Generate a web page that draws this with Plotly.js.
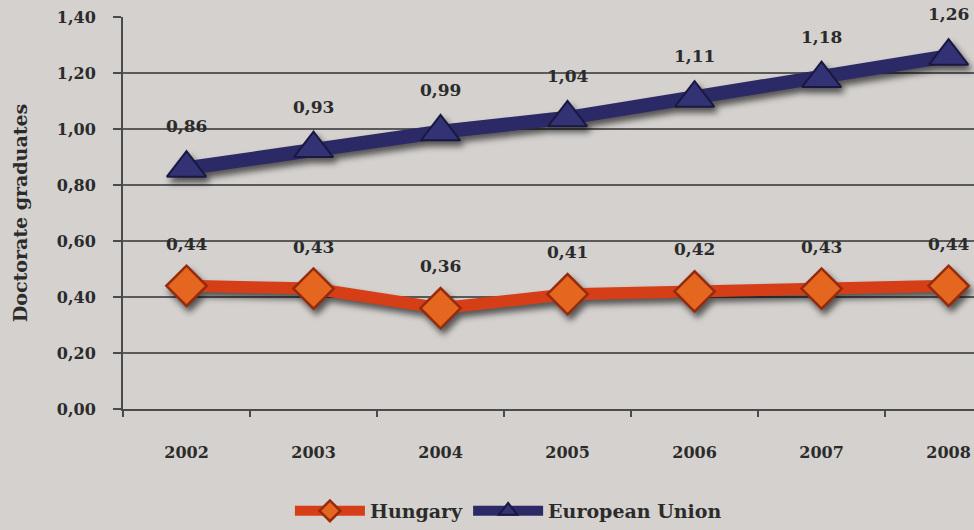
<!DOCTYPE html>
<html>
<head>
<meta charset="utf-8">
<script src="https://cdn.plot.ly/plotly-3.0.1.min.js"></script>
<style>
  html, body { margin: 0; padding: 0; background: #d4d1ce; overflow: hidden; }
  #chart { width: 974px; height: 530px; }
  /* soft drop shadow under the series lines and markers */
  #chart .scatterlayer .trace { filter: drop-shadow(3px 5px 3px rgba(0,0,0,0.6)); }
</style>
</head>
<body>
<div id="chart"></div>
<script>
// Doctorate graduates per 1000 population, Hungary vs. EU average
const years = ['2002', '2003', '2004', '2005', '2006', '2007', '2008'];
const hungary = [0.44, 0.43, 0.36, 0.41, 0.42, 0.43, 0.44];
const europeanUnion = [0.86, 0.93, 0.99, 1.04, 1.11, 1.18, 1.26];
const yTicks = [0, 0.2, 0.4, 0.6, 0.8, 1.0, 1.2, 1.4];

const fmt = v => v.toFixed(2).replace('.', ',');
const serif = '"DejaVu Serif", "Liberation Serif", serif';
const ink = '#2b2b2b';

const traces = [
  {
    x: years, y: hungary, name: 'Hungary', type: 'scatter', mode: 'lines+markers',
    line: { color: '#d63e18', width: 12 },
    marker: { symbol: 'diamond', size: 31, color: '#e4661f', line: { color: '#962a0c', width: 2.5 } },
    cliponaxis: false
  },
  {
    x: years, y: europeanUnion, name: 'European Union', type: 'scatter', mode: 'lines+markers',
    line: { color: '#2b2a66', width: 14 },
    marker: { symbol: 'triangle-up', size: 34, color: '#323274', line: { color: '#181840', width: 2 } },
    cliponaxis: false
  }
];

// value labels above each point (category index used as x position)
const labels = [];
[hungary, europeanUnion].forEach(series => {
  series.forEach((v, i) => {
    labels.push({
      x: i, y: v, xref: 'x', yref: 'y', text: '<b>' + fmt(v) + '</b>', showarrow: false,
      yanchor: 'bottom', yshift: 30,
      font: { family: serif, size: 17, color: ink }
    });
  });
});

const layout = {
  width: 974, height: 530,
  paper_bgcolor: '#d4d1ce', plot_bgcolor: '#d4d1ce',
  margin: { l: 123, r: 0, t: 17, b: 121 },
  showlegend: true,
  legend: {
    orientation: 'h', x: 0.522, xanchor: 'center', xref: 'container',
    y: -0.012, yanchor: 'bottom', yref: 'container',
    font: { family: serif, size: 19, color: ink, weight: 'bold' },
    itemwidth: 70, bgcolor: 'rgba(0,0,0,0)'
  },
  xaxis: {
    type: 'category', range: [-0.5, 6.2],
    showline: true, linecolor: '#4a4a4a', linewidth: 2,
    ticks: 'outside', tickson: 'boundaries', ticklen: 6, tickcolor: '#4a4a4a', tickwidth: 1.5,
    ticklabelstandoff: 28,
    tickfont: { family: serif, size: 16, color: ink, weight: 'bold' },
    showgrid: false, zeroline: false, fixedrange: true, automargin: false
  },
  yaxis: {
    range: [0, 1.4], tickvals: yTicks, tickformat: '.2f',
    showline: true, linecolor: '#4a4a4a', linewidth: 2,
    ticks: 'outside', ticklen: 8, tickcolor: '#4a4a4a', tickwidth: 1.5,
    ticklabelstandoff: 14,
    tickfont: { family: serif, size: 16, color: ink, weight: 'bold' },
    showgrid: true, gridcolor: '#5a5a5a', gridwidth: 1.5,
    zeroline: false,
    title: { text: '<b>Doctorate graduates</b>', font: { family: serif, size: 19, color: ink }, standoff: 24 },
    automargin: false
  },
  separators: ',.',
  annotations: labels
};

Plotly.newPlot('chart', traces, layout, { displayModeBar: false, staticPlot: true });
</script>
</body>
</html>
